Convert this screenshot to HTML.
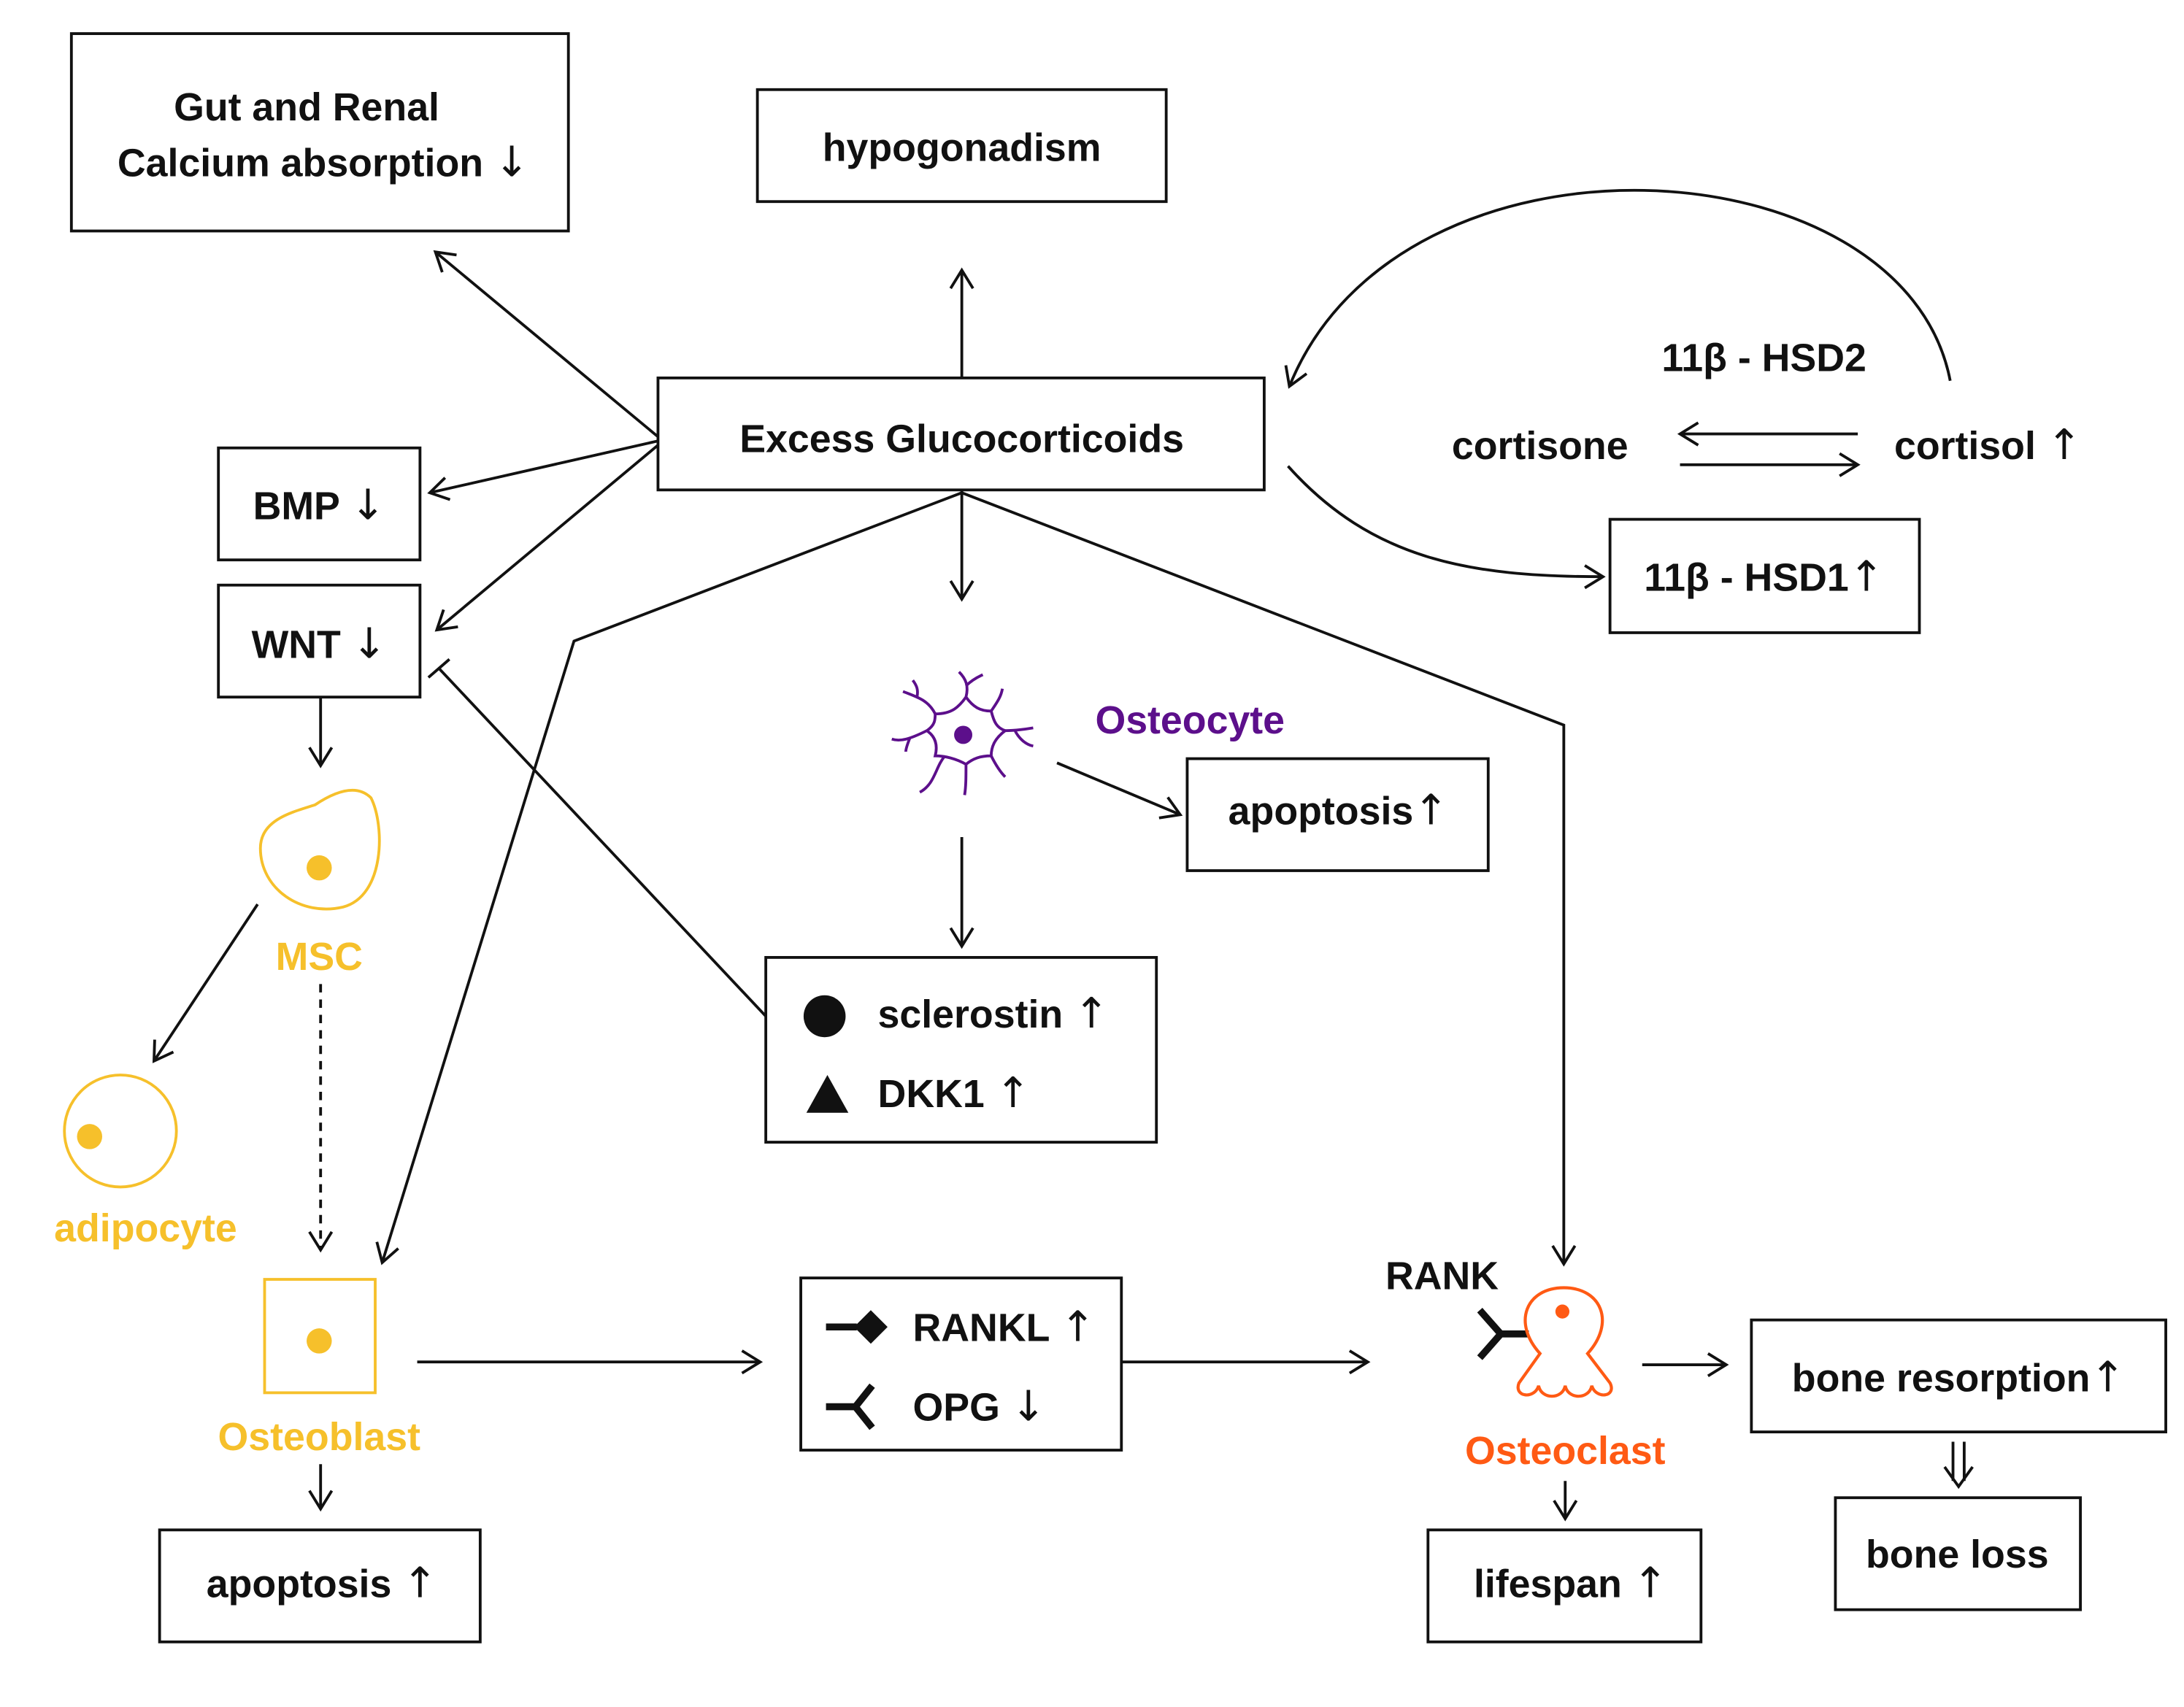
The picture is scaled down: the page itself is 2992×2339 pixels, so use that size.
<!DOCTYPE html>
<html><head><meta charset="utf-8"><style>
html,body{margin:0;padding:0;background:#fff;}
svg{display:block;}
text{font-family:"Liberation Sans",sans-serif;font-weight:bold;font-size:28px;fill:#111;}
.ar{font-family:"DejaVu Sans",sans-serif;font-weight:normal;font-size:30px;}
</style></head><body>
<svg width="2992" height="2339" viewBox="0 0 1560 1219.5" xmlns="http://www.w3.org/2000/svg">
<defs>
<marker id="a" markerUnits="userSpaceOnUse" markerWidth="20" markerHeight="20" refX="15" refY="9" orient="auto">
<path d="M2,1 L15,9 L2,17" fill="none" stroke="#111" stroke-width="2"/>
</marker>
</defs>
<g fill="none" stroke="#111" stroke-width="2">
<rect x="51" y="24" width="355" height="141"/>
<rect x="541" y="64" width="292" height="80"/>
<rect x="470" y="270" width="433" height="80"/>
<rect x="156" y="320" width="144" height="80"/>
<rect x="156" y="418" width="144" height="80"/>
<rect x="1150" y="371" width="221" height="81"/>
<rect x="848" y="542" width="215" height="80"/>
<rect x="547" y="684" width="279" height="132"/>
<rect x="572" y="913" width="229" height="123"/>
<rect x="1251" y="943" width="296" height="80"/>
<rect x="1311" y="1070" width="175" height="80"/>
<rect x="114" y="1093" width="229" height="80"/>
<rect x="1020" y="1093" width="195" height="80"/>
</g>
<g fill="none" stroke="#111" stroke-width="2" marker-end="url(#a)">
<line x1="470" y1="312" x2="311" y2="180"/>
<line x1="470" y1="315" x2="307" y2="352"/>
<line x1="470" y1="318" x2="312" y2="450"/>
<line x1="687" y1="270" x2="687" y2="193"/>
<line x1="687" y1="350" x2="687" y2="428"/>
<polyline points="687,352 410,458 273,902"/>
<polyline points="687,352 1117,518 1117,903"/>
<path d="M1393,272 C1360,100 1000,80 921,276"/>
<path d="M920,333 C980,400 1050,412 1145,412"/>
<line x1="1327" y1="310" x2="1200" y2="310"/>
<line x1="1200" y1="332" x2="1327" y2="332"/>
<line x1="229" y1="498" x2="229" y2="547"/>
<line x1="184" y1="646" x2="110" y2="758"/>
<line x1="229" y1="703" x2="229" y2="893" stroke-dasharray="6,5"/>
<line x1="229" y1="1046" x2="229" y2="1078"/>
<line x1="298" y1="973" x2="543" y2="973"/>
<line x1="801" y1="973" x2="977" y2="973"/>
<line x1="755" y1="545" x2="843" y2="582"/>
<line x1="687" y1="598" x2="687" y2="676"/>
<line x1="1173" y1="975" x2="1233" y2="975"/>
<line x1="1118" y1="1058" x2="1118" y2="1085"/>
</g>
<g fill="none" stroke="#111" stroke-width="2">
<line x1="547" y1="726" x2="314" y2="478"/>
<line x1="306" y1="484" x2="321" y2="471"/>
<line x1="1395" y1="1030" x2="1395" y2="1058"/>
<line x1="1403" y1="1030" x2="1403" y2="1058"/>
<path d="M1389,1048 L1399,1062 L1409,1048"/>
</g>
<text x="219" y="86" text-anchor="middle">Gut and Renal</text>
<text x="231" y="126" text-anchor="middle">Calcium absorption <tspan class="ar">↓</tspan></text>
<text x="687" y="115" text-anchor="middle">hypogonadism</text>
<text x="687" y="323" text-anchor="middle">Excess Glucocorticoids</text>
<text x="228" y="371" text-anchor="middle">BMP <tspan class="ar">↓</tspan></text>
<text x="228" y="470" text-anchor="middle">WNT <tspan class="ar">↓</tspan></text>
<text x="1260" y="422" text-anchor="middle">11β - HSD1<tspan class="ar">↑</tspan></text>
<text x="1260" y="265" text-anchor="middle">11β - HSD2</text>
<text x="1100" y="328" text-anchor="middle">cortisone</text>
<text x="1420" y="328" text-anchor="middle">cortisol <tspan class="ar">↑</tspan></text>
<text x="956" y="589" text-anchor="middle">apoptosis<tspan class="ar">↑</tspan></text>
<text x="627" y="734">sclerostin <tspan class="ar">↑</tspan></text>
<text x="627" y="791">DKK1 <tspan class="ar">↑</tspan></text>
<text x="652" y="958">RANKL <tspan class="ar">↑</tspan></text>
<text x="652" y="1015">OPG <tspan class="ar">↓</tspan></text>
<text x="1399" y="994" text-anchor="middle">bone resorption<tspan class="ar">↑</tspan></text>
<text x="1398" y="1120" text-anchor="middle">bone loss</text>
<text x="230" y="1141" text-anchor="middle">apoptosis <tspan class="ar">↑</tspan></text>
<text x="1122" y="1141" text-anchor="middle">lifespan <tspan class="ar">↑</tspan></text>
<text x="1030" y="921" text-anchor="middle">RANK</text>
<text x="850" y="524" text-anchor="middle" style="fill:#5c0f8b">Osteocyte</text>
<text x="228" y="693" text-anchor="middle" style="fill:#f6c02b">MSC</text>
<text x="104" y="887" text-anchor="middle" style="fill:#f6c02b">adipocyte</text>
<text x="228" y="1036" text-anchor="middle" style="fill:#f6c02b">Osteoblast</text>
<text x="1118" y="1046" text-anchor="middle" style="fill:#ff5a14">Osteoclast</text>
<circle cx="589" cy="726" r="15" fill="#111"/>
<polygon points="591,768 576,795 606,795" fill="#111"/>
<line x1="590" y1="948" x2="612" y2="948" stroke="#111" stroke-width="5"/>
<polygon points="622,936 634,948 622,960 610,948" fill="#111"/>
<path d="M590,1005 L611,1005 M623,990 L611,1005 L623,1020" fill="none" stroke="#111" stroke-width="5"/>
<path d="M1092,953 L1072,953 M1057,936 L1072,953 L1057,970" fill="none" stroke="#111" stroke-width="5"/>
<path d="M1100,967 C1080,945 1090,920 1117,920 C1144,920 1154,945 1134,967 L1150,988 C1155,998 1140,1000 1137,990 C1135,1000 1120,1000 1118,990 C1116,1000 1101,1000 1099,990 C1096,1000 1081,998 1085,988 Z" fill="none" stroke="#ff5a14" stroke-width="2.2"/>
<circle cx="1116" cy="937" r="5" fill="#ff5a14"/>
<path d="M186,606 C186,585 210,580 225,575 C240,565 255,560 265,570 C275,590 275,640 245,648 C215,655 186,635 186,606 Z" fill="none" stroke="#f6c02b" stroke-width="2"/>
<circle cx="228" cy="620" r="9" fill="#f6c02b"/>
<circle cx="86" cy="808" r="40" fill="none" stroke="#f6c02b" stroke-width="2"/>
<circle cx="64" cy="812" r="9" fill="#f6c02b"/>
<rect x="189" y="914" width="79" height="81" fill="none" stroke="#f6c02b" stroke-width="2"/>
<circle cx="228" cy="958" r="9" fill="#f6c02b"/>
<g fill="none" stroke="#5c0f8b" stroke-width="2">
<path d="M668,510 C680,510 685,505 690,498 C695,505 700,508 708,508 C710,516 712,520 718,522 C710,528 708,534 708,540 C700,540 695,542 690,546 C683,542 675,540 668,540 C670,532 668,526 662,522 C668,518 668,514 668,510 Z"/>
<path d="M690,498 C692,490 690,485 685,480 M690,490 C695,485 700,483 702,482"/>
<path d="M708,508 C712,502 715,498 716,492"/>
<path d="M718,522 C725,522 732,521 738,520 M725,522 C728,528 733,532 738,533"/>
<path d="M708,540 C712,548 715,552 718,555"/>
<path d="M690,546 C690,555 690,562 689,568"/>
<path d="M675,540 C668,548 668,560 657,566"/>
<path d="M662,522 C650,528 643,530 637,528 M650,527 C648,532 647,535 647,537"/>
<path d="M668,510 C663,500 655,498 645,494 M655,498 C656,493 655,490 652,486"/>
</g>
<circle cx="688" cy="525" r="6.5" fill="#5c0f8b"/>
</svg>
</body></html>
